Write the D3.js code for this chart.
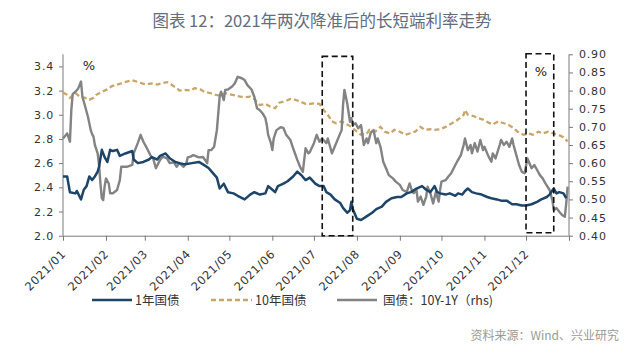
<!DOCTYPE html>
<html><head><meta charset="utf-8">
<script src="https://cdn.jsdelivr.net/npm/d3@7/dist/d3.min.js"></script>
<style>
html,body{margin:0;padding:0;background:#fff;}
svg{display:block;}
</style></head>
<body>
<svg id="chart" width="640" height="358"></svg>
<script>
// ---------- DATA ----------
const title = "图表 12：2021年两次降准后的长短端利率走势";
const source = "资料来源：Wind、兴业研究";
const seriesNames = ["1年国债", "10年国债", "国债：10Y-1Y（rhs)"];
const xTickLabels = ["2021/01","2021/02","2021/03","2021/04","2021/05","2021/06","2021/07","2021/08","2021/09","2021/10","2021/11","2021/12"];
const leftTicks = [2.0, 2.2, 2.4, 2.6, 2.8, 3.0, 3.2, 3.4];
const rightTicks = [0.40, 0.45, 0.50, 0.55, 0.60, 0.65, 0.70, 0.75, 0.80, 0.85, 0.90];

const oneYDates = ["01-01","01-04","01-06","01-10","01-11","01-14","01-16","01-18","01-20","01-22","01-24","01-26","01-27","01-29","01-31",
"02-02","02-04","02-06","02-09","02-11","02-15","02-20","02-21","02-24","02-28",
"03-04","03-06","03-10","03-12","03-16","03-19","03-23","03-26","03-30",
"04-04","04-09","04-12","04-16","04-19","04-22","04-24","04-27","04-30",
"05-04","05-07","05-12","05-16","05-19","05-23","05-27","05-29","05-31",
"06-03","06-05","06-09","06-12","06-16","06-19","06-22","06-25","06-28",
"07-02","07-05","07-08","07-10","07-13","07-16","07-20","07-22","07-25","07-27","07-28","07-29",
"08-01","08-04","08-08","08-12","08-15","08-19","08-22","08-26","08-30",
"09-02","09-06","09-09","09-13","09-17","09-20","09-23","09-26","09-28","09-30",
"10-04","10-07","10-11","10-13","10-16","10-18","10-20","10-23","10-26","10-30",
"11-03","11-06","11-10","11-13","11-17","11-21","11-24","11-28",
"12-01","12-05","12-09","12-12","12-16","12-18","12-21","12-23","12-25","12-28","12-30"];
const oneYValues = [2.49,2.49,2.36,2.35,2.37,2.30,2.38,2.41,2.49,2.46,2.49,2.53,2.57,2.71,2.65,
2.61,2.71,2.70,2.71,2.66,2.68,2.70,2.63,2.60,2.61,
2.63,2.65,2.63,2.66,2.68,2.64,2.61,2.60,2.59,
2.60,2.61,2.59,2.56,2.52,2.48,2.39,2.43,2.36,
2.35,2.33,2.30,2.34,2.36,2.34,2.35,2.41,2.39,
2.36,2.41,2.43,2.45,2.49,2.53,2.50,2.46,2.48,
2.43,2.41,2.41,2.36,2.34,2.30,2.27,2.23,2.19,2.21,2.28,2.22,
2.14,2.13,2.16,2.19,2.22,2.24,2.28,2.31,2.32,
2.32,2.35,2.36,2.39,2.41,2.38,2.36,2.41,2.36,2.35,
2.34,2.35,2.33,2.35,2.34,2.37,2.39,2.36,2.35,2.34,
2.32,2.31,2.30,2.29,2.29,2.26,2.26,2.25,
2.25,2.26,2.28,2.30,2.32,2.34,2.39,2.35,2.36,2.35,2.31];

const tenYDates = ["01-01","01-04","01-06","01-10","01-13","01-17","01-20","01-23","01-25","01-29",
"02-02","02-05","02-09","02-12","02-16","02-20","02-23","02-27",
"03-02","03-06","03-10","03-13","03-17","03-20","03-24","03-26","03-30",
"04-03","04-06","04-10","04-13","04-17","04-21","04-24","04-28",
"05-01","05-05","05-09","05-12","05-16","05-19","05-23","05-27","05-30",
"06-03","06-06","06-10","06-14","06-17","06-21","06-25","06-28",
"07-02","07-05","07-08","07-11","07-14","07-17","07-21","07-25","07-28",
"08-01","08-04","08-08","08-10","08-14","08-18","08-21","08-25","08-28",
"09-01","09-05","09-08","09-12","09-16","09-19","09-23","09-26","09-30",
"10-04","10-07","10-11","10-14","10-17","10-18","10-20","10-24","10-28","10-31",
"11-04","11-07","11-11","11-15","11-18","11-22","11-25","11-29",
"12-03","12-06","12-10","12-13","12-17","12-21","12-24","12-28","12-31"];
const tenYValues = [3.185,3.165,3.14,3.18,3.15,3.14,3.125,3.14,3.165,3.19,
3.21,3.235,3.25,3.26,3.275,3.285,3.275,3.26,
3.25,3.26,3.25,3.26,3.27,3.25,3.22,3.20,3.205,
3.20,3.22,3.21,3.19,3.18,3.165,3.16,3.18,
3.17,3.16,3.15,3.145,3.15,3.13,3.08,3.09,3.07,
3.055,3.10,3.11,3.13,3.125,3.11,3.09,3.09,
3.095,3.09,3.04,3.00,2.945,2.93,2.945,2.92,2.90,
2.86,2.835,2.84,2.875,2.86,2.90,2.86,2.845,2.875,
2.86,2.835,2.845,2.86,2.90,2.875,2.88,2.875,2.88,
2.90,2.92,2.945,2.97,3.00,3.04,3.00,2.99,2.97,2.96,
2.935,2.92,2.945,2.93,2.92,2.89,2.86,2.835,
2.845,2.835,2.86,2.845,2.86,2.845,2.835,2.815,2.78];

const spreadDates = ["01-01","01-04","01-06","01-07","01-08","01-10","01-12","01-14","01-15","01-17","01-19","01-21","01-22","01-23","01-24","01-26","01-27","01-28","01-29","01-30","01-31",
"02-01","02-03","02-04","02-06","02-09","02-11","02-12","02-16","02-20","02-21","02-24","02-26","02-28",
"03-02","03-05","03-07","03-09","03-12","03-14","03-17","03-19","03-22","03-24","03-26","03-29","03-31",
"04-01","04-03","04-05","04-09","04-12","04-15","04-16","04-18","04-20","04-22","04-23","04-24","04-25","04-27","04-28","04-30",
"05-03","05-05","05-07","05-10","05-12","05-14","05-17","05-19","05-21","05-23","05-25","05-27","05-28","05-29","05-31",
"06-01","06-02","06-04","06-07","06-09","06-11","06-14","06-16","06-19","06-21","06-23","06-24","06-25","06-27","06-28",
"07-01","07-03","07-05","07-07","07-10","07-11","07-14","07-16","07-19","07-21","07-22","07-23","07-25","07-27","07-28","07-29","07-31",
"08-02","08-04","08-06","08-08","08-09","08-11","08-13","08-15","08-16","08-18","08-20","08-22","08-24","08-27","08-29",
"09-01","09-03","09-06","09-08","09-10","09-11","09-13","09-14","09-16","09-18","09-20","09-21","09-23","09-25","09-27","09-29","09-30",
"10-01","10-04","10-06","10-08","10-11","10-13","10-15","10-17","10-18","10-20","10-22","10-23","10-25","10-27","10-29","10-31",
"11-01","11-04","11-06","11-07","11-09","11-12","11-13","11-15","11-17","11-19","11-21","11-22","11-24","11-26","11-28","11-30",
"12-02","12-03","12-05","12-07","12-09","12-11","12-13","12-15","12-18","12-20","12-21","12-23","12-25","12-27","12-29","12-30","12-31"];
const spreadValues = [0.668,0.682,0.659,0.746,0.79,0.797,0.806,0.825,0.783,0.756,0.728,0.691,0.68,0.673,0.65,0.627,0.595,0.544,0.503,0.498,0.535,
0.558,0.544,0.517,0.517,0.526,0.553,0.59,0.59,0.595,0.627,0.656,0.678,0.659,
0.645,0.622,0.613,0.586,0.609,0.618,0.613,0.60,0.602,0.59,0.60,0.59,0.60,
0.616,0.618,0.622,0.616,0.617,0.60,0.636,0.636,0.645,0.691,0.737,0.783,0.797,0.774,0.802,0.803,
0.811,0.82,0.838,0.834,0.829,0.815,0.803,0.783,0.751,0.746,0.737,0.724,0.705,0.678,0.655,
0.636,0.668,0.691,0.699,0.697,0.678,0.664,0.641,0.609,0.59,0.576,0.609,0.641,0.627,0.63,
0.655,0.678,0.659,0.668,0.655,0.668,0.627,0.645,0.673,0.691,0.76,0.802,0.765,0.714,0.724,0.705,0.71,
0.696,0.705,0.65,0.668,0.655,0.684,0.691,0.655,0.668,0.645,0.604,0.586,0.567,0.558,0.549,
0.54,0.526,0.521,0.544,0.521,0.517,0.526,0.494,0.508,0.485,0.508,0.535,0.517,0.489,0.521,0.494,0.526,
0.549,0.553,0.563,0.572,0.595,0.609,0.622,0.65,0.668,0.636,0.65,0.627,0.655,0.632,0.664,0.636,
0.645,0.618,0.604,0.627,0.613,0.65,0.664,0.65,0.659,0.645,0.668,0.65,0.622,0.595,0.576,0.572,
0.613,0.604,0.586,0.595,0.581,0.567,0.558,0.544,0.526,0.498,0.471,0.476,0.466,0.457,0.452,0.489,0.535];

// highlight boxes (RRR cuts): date range and left-axis value range
const boxStart = ["07-07", "12-01"];
const boxEnd = ["07-29", "12-21"];
const boxTop = [3.483, 3.505];
const boxBottom = [2.0, 2.025];

// ---------- CHART ----------
const parse = d3.timeParse("%Y-%m-%d");
const toDate = s => parse("2021-" + s);
const svg = d3.select("#chart");
const M = {left: 63, right: 569, top: 54.3, bottom: 235.7};

const x = d3.scaleTime().domain([parse("2021-01-01"), parse("2022-01-01")]).range([M.left, M.right]);
const yL = d3.scaleLinear().domain([2.0, 3.5]).range([M.bottom, M.top]);
const yR = d3.scaleLinear().domain([0.4, 0.9]).range([M.bottom, M.top]);

const axisColor = "#7a7a7a";
const textColor = "#333333";
const numFont = "'DejaVu Sans', sans-serif";
const cjkFont = "'Noto Sans CJK SC', 'Noto Sans', sans-serif";

// title
svg.append("text").attr("x", 322).attr("y", 27).attr("text-anchor", "middle")
  .attr("font-family", cjkFont).attr("font-size", 16.5).attr("fill", "#5f6e80").text(title);

// axes
const gL = svg.append("g").attr("transform", `translate(${M.left},0)`)
  .call(d3.axisLeft(yL).tickValues(leftTicks).tickFormat(d3.format(".1f")).tickSize(4).tickPadding(5));
const gR = svg.append("g").attr("transform", `translate(${M.right},0)`)
  .call(d3.axisRight(yR).tickValues(rightTicks).tickFormat(d3.format(".2f")).tickSize(4).tickPadding(6));
const monthTicks = d3.range(0, 13).map(i => new Date(2021, i, 1));
const gX = svg.append("g").attr("transform", `translate(0,${M.bottom})`)
  .call(d3.axisBottom(x).tickValues(monthTicks).tickFormat((d, i) => xTickLabels[i] || "").tickSize(5).tickSizeOuter(0));

[gL, gR, gX].forEach(g => {
  g.select(".domain").attr("stroke", axisColor).attr("stroke-width", 1);
  g.selectAll(".tick line").attr("stroke", axisColor);
  g.selectAll("text").attr("fill", textColor).attr("font-family", numFont).attr("font-size", 11).attr("letter-spacing", 0.8);
});
gL.select(".domain").attr("d", `M0,${M.top}V${M.bottom}`);
gR.select(".domain").attr("d", `M0,${M.top}V${M.bottom}`);
gX.selectAll(".tick text")
  .attr("text-anchor", "end")
  .attr("dy", null).attr("y", 0)
  .attr("font-size", 11.5).attr("letter-spacing", 0.6)
  .attr("transform", "translate(3,19) rotate(-45)");

// lines
const lineL = d3.line().x(d => x(d.date)).y(d => yL(d.v));
const lineR = d3.line().x(d => x(d.date)).y(d => yR(d.v));
const oneY = oneYDates.map((s, i) => ({date: toDate(s), v: oneYValues[i]}));
const tenY = tenYDates.map((s, i) => ({date: toDate(s), v: tenYValues[i]}));
const spread = spreadDates.map((s, i) => ({date: toDate(s), v: spreadValues[i]}));

const colBlue = "#1d4469", colTan = "#c8a568", colGray = "#838383";
svg.append("path").datum(tenY).attr("d", lineL).attr("fill", "none")
  .attr("stroke", colTan).attr("stroke-width", 2.3).attr("stroke-dasharray", "5,3");
svg.append("path").datum(spread).attr("d", lineR).attr("fill", "none")
  .attr("stroke", colGray).attr("stroke-width", 2.4).attr("stroke-linejoin", "round");
svg.append("path").datum(oneY).attr("d", lineL).attr("fill", "none")
  .attr("stroke", colBlue).attr("stroke-width", 2.5).attr("stroke-linejoin", "round");

// highlight boxes
boxStart.forEach((s, i) => {
  const x0 = x(toDate(s)), x1 = x(toDate(boxEnd[i]));
  const y0 = yL(boxTop[i]), y1 = yL(boxBottom[i]);
  svg.append("rect").attr("x", x0).attr("y", y0).attr("width", x1 - x0).attr("height", y1 - y0)
    .attr("fill", "none").attr("stroke", "#111").attr("stroke-width", 1.6).attr("stroke-dasharray", "6,3.5");
});

// unit labels
svg.append("text").attr("x", 89).attr("y", 70).attr("text-anchor", "middle")
  .attr("font-family", numFont).attr("font-size", 13).attr("fill", "#222").text("%");
svg.append("text").attr("x", 541).attr("y", 76).attr("text-anchor", "middle")
  .attr("font-family", numFont).attr("font-size", 13).attr("fill", "#222").text("%");

// legend
const legend = [
  {name: seriesNames[0], color: colBlue, dash: null, x0: 92, x1: 132, tx: 135},
  {name: seriesNames[1], color: colTan, dash: "5,3", x0: 211, x1: 252, tx: 255},
  {name: seriesNames[2], color: colGray, dash: null, x0: 337, x1: 377, tx: 383}
];
const lg = svg.append("g");
legend.forEach(l => {
  lg.append("line").attr("x1", l.x0).attr("x2", l.x1).attr("y1", 300).attr("y2", 300)
    .attr("stroke", l.color).attr("stroke-width", 2.4).attr("stroke-dasharray", l.dash);
  lg.append("text").attr("x", l.tx).attr("y", 304.5).attr("font-family", cjkFont)
    .attr("font-size", 12.5).attr("fill", textColor).text(l.name);
});

// source
svg.append("text").attr("x", 619).attr("y", 340).attr("text-anchor", "end")
  .attr("font-family", cjkFont).attr("font-size", 12).attr("fill", "#9a9a9a").text(source);
</script>
</body></html>
